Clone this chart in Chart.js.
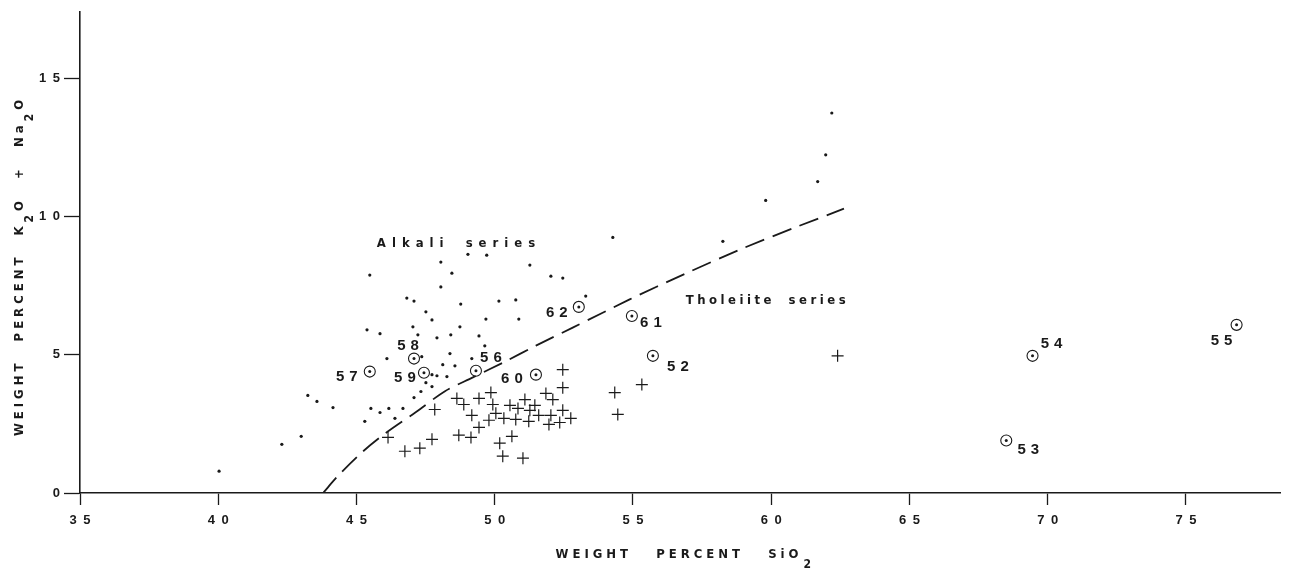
<!DOCTYPE html>
<html>
<head>
<meta charset="utf-8">
<script src="https://cdn.jsdelivr.net/npm/chart.js@4.4.0/dist/chart.umd.min.js"></script>
<style>
  body { margin: 0; background: #fff; }
  #wrap { width: 1293px; height: 575px; }
</style>
</head>
<body>
<div id="wrap"><canvas id="tasChart" width="1293" height="575"></canvas></div>
<script>
// alkali series samples (small dots): SiO2, K2O+Na2O
const alkaliSiO2 = [40.03, 42.30, 43.0, 43.24, 43.57, 44.15, 45.48, 45.38, 45.85, 46.10,
  46.82, 47.08, 47.51, 47.73, 47.04, 47.22, 47.91, 47.36, 47.91, 48.05,
  48.45, 49.03, 49.71, 51.27, 52.03, 52.46, 48.05, 48.77, 50.15, 50.76,
  53.29, 49.68, 50.87, 48.74, 48.41, 49.43, 49.64, 48.38, 48.12, 48.56,
  49.17, 47.73, 48.27, 45.52, 45.85, 46.17, 46.68, 45.30, 46.39, 47.08,
  47.33, 47.73, 47.51, 54.27, 58.25, 59.80, 61.68, 61.97, 62.19];
const alkaliAlk = [0.79, 1.76, 2.05, 3.53, 3.31, 3.09, 7.88, 5.90, 5.76, 4.86,
  7.05, 6.94, 6.55, 6.26, 6.01, 5.72, 5.61, 4.93, 4.24, 8.35,
  7.95, 8.63, 8.60, 8.24, 7.84, 7.77, 7.45, 6.83, 6.94, 6.98,
  7.12, 6.29, 6.29, 6.01, 5.72, 5.68, 5.32, 5.04, 4.64, 4.60,
  4.86, 4.28, 4.21, 3.06, 2.91, 3.06, 3.06, 2.59, 2.70, 3.45,
  3.67, 3.85, 3.99, 9.24, 9.10, 10.58, 11.26, 12.23, 13.74];

// tholeiite series samples (crosses)
const tholSiO2 = [52.46, 52.46, 51.85, 52.10, 49.86, 48.63, 48.88, 49.43, 49.93, 50.55,
  50.84, 51.09, 51.45, 51.27, 52.46, 49.17, 50.04, 50.33, 49.79, 50.76,
  51.23, 51.59, 52.03, 51.96, 52.35, 52.75, 49.43, 47.83, 48.70, 49.14,
  47.73, 50.62, 50.18, 50.29, 51.02, 46.14, 46.75, 47.29, 55.32, 54.34,
  54.45, 62.40];
const tholAlk = [4.46, 3.81, 3.60, 3.38, 3.63, 3.42, 3.20, 3.42, 3.20, 3.17,
  3.06, 3.38, 3.17, 2.99, 2.99, 2.81, 2.88, 2.70, 2.63, 2.66,
  2.59, 2.81, 2.81, 2.48, 2.55, 2.70, 2.37, 3.02, 2.09, 2.01,
  1.94, 2.05, 1.80, 1.33, 1.26, 2.01, 1.51, 1.62, 3.92, 3.63,
  2.84, 4.96];

// numbered samples (circled dots)
const sampleNo = ['52', '53', '54', '55', '56', '57', '58', '59', '60', '61', '62'];
const sampleSiO2 = [55.72, 68.5, 69.45, 76.83, 49.32, 45.48, 47.08, 47.44, 51.49, 54.96, 53.04];
const sampleAlk = [4.96, 1.90, 4.96, 6.08, 4.42, 4.39, 4.86, 4.35, 4.28, 6.40, 6.73];

// dividing line between the series
const divSiO2 = [43.79, 44.36, 45.22, 46.06, 47.14, 48.20, 49.21, 50.37, 51.49, 52.82, 54.88, 56.87, 58.86, 60.91, 62.63];
const divAlk = [0, 0.65, 1.49, 2.17, 2.92, 3.68, 4.18, 4.75, 5.33, 5.98, 7.0, 7.92, 8.80, 9.62, 10.28];

const xTicks = [35, 40, 45, 50, 55, 60, 65, 70, 75];
const yTicks = [0, 5, 10, 15];

const ink = '#1a1a1a';
const narrow = '"Liberation Sans Narrow", "DejaVu Sans Condensed", sans-serif';
const sans = '"Liberation Sans", "DejaVu Sans", sans-serif';

const pts = (xs, ys) => xs.map((x, i) => ({ x: x, y: ys[i] }));
const spaced = v => String(v).split('').join('\u2002');

// where each sample number sits relative to its circle (px)
const labelOffset = {
  '52': [25, 11], '53': [22, 9], '54': [19, -12], '55': [-15, 16],
  '56': [15, -13], '57': [-23, 5], '58': [-6, -13], '59': [-19, 5],
  '60': [-24, 4], '61': [19, 7], '62': [-22, 6]
};

function spacedText(ctx, text, x, y, gap, wordGap) {
  ctx.letterSpacing = gap + 'px';
  ctx.wordSpacing = (wordGap || 0) + 'px';
  ctx.fillText(text, x + gap / 2, y);
  ctx.letterSpacing = '0px';
  ctx.wordSpacing = '0px';
}

const annotations = {
  id: 'annotations',
  afterDraw(chart) {
    const ctx = chart.ctx;
    const xs = chart.scales.x, ys = chart.scales.y;
    ctx.save();
    ctx.fillStyle = ink;
    ctx.textBaseline = 'middle';
    ctx.textAlign = 'center';

    // sample numbers
    ctx.font = 'bold 15px ' + sans;
    sampleNo.forEach((n, i) => {
      const off = labelOffset[n];
      spacedText(ctx, n, xs.getPixelForValue(sampleSiO2[i]) + off[0], ys.getPixelForValue(sampleAlk[i]) + off[1], 5);
    });

    // series names
    ctx.font = 'bold 13px ' + narrow;
    spacedText(ctx, 'Alkali series', xs.getPixelForValue(48.6), ys.getPixelForValue(9.0), 6, 6);
    spacedText(ctx, 'Tholeiite series', xs.getPixelForValue(59.8), ys.getPixelForValue(6.95), 3.5, 6);

    // x axis title with subscript
    ctx.font = 'bold 13px ' + narrow;
    ctx.textAlign = 'left';
    ctx.letterSpacing = '4px';
    ctx.wordSpacing = '16px';
    const t = 'WEIGHT PERCENT SiO';
    const w = ctx.measureText(t).width;
    const x0 = 679 - w / 2;
    ctx.fillText(t, x0, 555);
    ctx.font = 'bold 12px ' + narrow;
    ctx.fillText('2', x0 + w + 1, 565);

    // y axis title, rotated, with subscripts
    ctx.letterSpacing = '4px';
    ctx.wordSpacing = '10px';
    ctx.translate(20, 266);
    ctx.rotate(-Math.PI / 2);
    const parts = [['WEIGHT PERCENT K', 0], ['2', 1], ['O + Na', 0], ['2', 1], ['O', 0]];
    const partFont = p => (p[1] ? 'bold 12px ' : 'bold 13px ') + narrow;
    let total = 0;
    parts.forEach(p => { ctx.font = partFont(p); total += ctx.measureText(p[0]).width; });
    let cx = -total / 2;
    parts.forEach(p => {
      ctx.font = partFont(p);
      ctx.fillText(p[0], cx, p[1] ? 10 : 0);
      cx += ctx.measureText(p[0]).width;
    });
    ctx.restore();
  }
};

new Chart(document.getElementById('tasChart'), {
  type: 'scatter',
  data: {
    datasets: [
      {
        type: 'line',
        data: pts(divSiO2, divAlk),
        borderColor: ink,
        borderWidth: 1.8,
        borderDash: [20, 9],
        pointRadius: 0,
        fill: false,
        tension: 0.3
      },
      {
        data: pts(alkaliSiO2, alkaliAlk),
        pointStyle: 'circle',
        pointRadius: 1.6,
        backgroundColor: ink,
        borderColor: ink,
        borderWidth: 0
      },
      {
        data: pts(tholSiO2, tholAlk),
        pointStyle: 'cross',
        pointRadius: 6,
        borderColor: ink,
        borderWidth: 1.2
      },
      {
        data: pts(sampleSiO2, sampleAlk),
        pointStyle: 'circle',
        pointRadius: 5.5,
        backgroundColor: 'rgba(0,0,0,0)',
        borderColor: ink,
        borderWidth: 1.1
      },
      {
        data: pts(sampleSiO2, sampleAlk),
        pointStyle: 'circle',
        pointRadius: 1.5,
        backgroundColor: ink,
        borderWidth: 0
      }
    ]
  },
  options: {
    responsive: false,
    animation: false,
    events: [],
    layout: { padding: { left: 0, top: 10, right: 13, bottom: 0 } },
    plugins: { legend: { display: false }, tooltip: { enabled: false } },
    scales: {
      x: {
        type: 'linear',
        min: 35,
        max: 78.4,
        afterFit: s => { s.height = 82; },
        afterBuildTicks: s => { s.ticks = xTicks.map(v => ({ value: v })); },
        border: { display: true, color: ink, width: 1.6 },
        grid: {
          display: true,
          drawOnChartArea: false,
          drawTicks: true,
          tickLength: 12,
          tickWidth: 1.3,
          color: ink,
          tickColor: ink
        },
        ticks: {
          color: ink,
          padding: 8,
          font: { family: sans, size: 13, weight: 'bold' },
          callback: v => spaced(v)
        }
      },
      y: {
        min: 0,
        max: 17.4,
        afterFit: s => { s.width = 80; },
        afterBuildTicks: s => { s.ticks = yTicks.map(v => ({ value: v })); },
        border: { display: true, color: ink, width: 1.6 },
        grid: {
          display: true,
          drawOnChartArea: false,
          drawTicks: true,
          tickLength: 16,
          tickWidth: 1.3,
          color: ink,
          tickColor: ink
        },
        ticks: {
          color: ink,
          padding: 4,
          font: { family: sans, size: 13, weight: 'bold' },
          callback: v => spaced(v)
        }
      }
    }
  },
  plugins: [annotations]
});
</script>
</body>
</html>
